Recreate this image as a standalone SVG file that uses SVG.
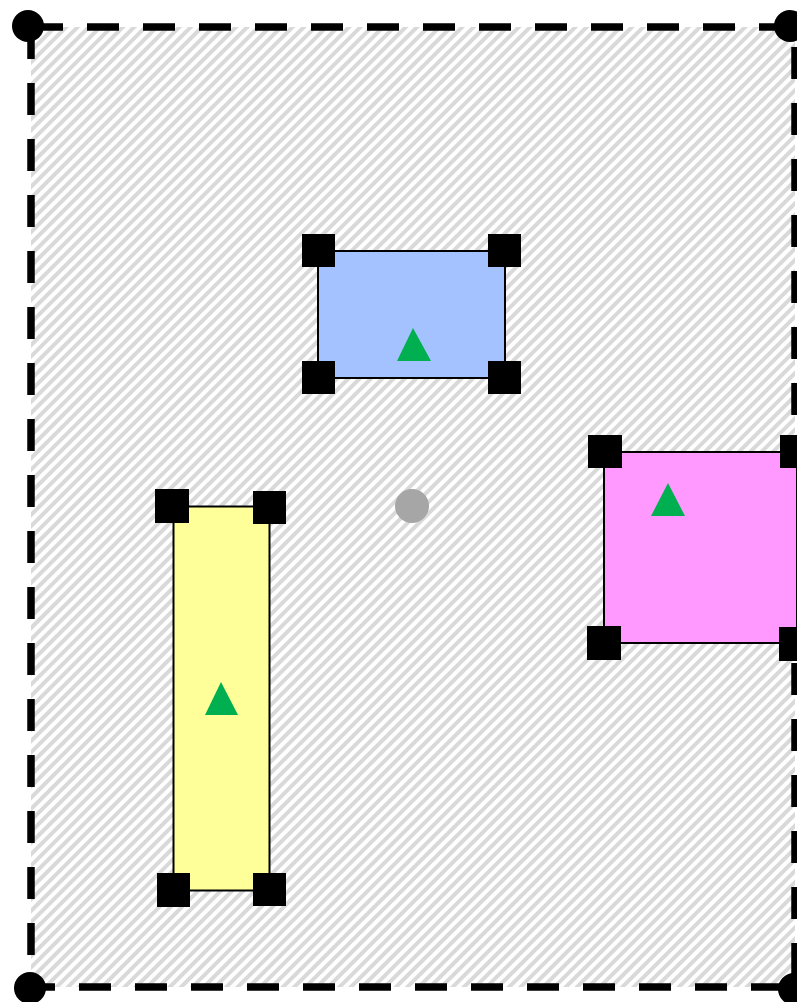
<svg xmlns="http://www.w3.org/2000/svg" width="797" height="1002" viewBox="0 0 797 1002">
<style>
.handle{fill:#000}
.tri{fill:#00b050}
.box{stroke:#000;stroke-width:2}
.corner{fill:#000}
</style>
<defs>
<pattern id="hatch" patternUnits="userSpaceOnUse" width="8" height="8" patternTransform="rotate(45)">
<rect x="0" y="0" width="8" height="8" fill="#fff"/>
<rect x="0" y="0" width="4" height="8" fill="#d9d9d9"/>
</pattern>
</defs>
<rect width="797" height="1002" fill="#fff"/>
<g id="frame">
<rect x="31" y="27" width="764" height="960" fill="url(#hatch)"/>
<rect x="31" y="27" width="764" height="960" fill="none" stroke="#000" stroke-width="7.5" stroke-dasharray="32 24"/>
<circle class="corner" cx="28" cy="26" r="16"/>
<circle class="corner" cx="790" cy="26" r="16"/>
<circle class="corner" cx="30" cy="988" r="16"/>
<circle class="corner" cx="794" cy="989" r="16"/>
</g>
<g id="connectors"></g>
<g id="blue">
<rect class="box" x="318" y="251" width="187" height="127" fill="#a3c2ff"/>
<rect class="handle" x="302" y="234" width="33" height="33"/>
<rect class="handle" x="488" y="234" width="33" height="33"/>
<rect class="handle" x="302" y="361" width="33" height="33"/>
<rect class="handle" x="488" y="361" width="33" height="33"/>
<polygon class="tri" points="413,328 397,361 431,361"/>
</g>
<g id="pink">
<rect class="box" x="604" y="452" width="193" height="191" fill="#ff99ff"/>
<rect class="handle" x="588" y="435" width="34" height="33"/>
<rect class="handle" x="780" y="435" width="34" height="33"/>
<rect class="handle" x="587" y="626" width="34" height="34"/>
<rect class="handle" x="779" y="627" width="34" height="34"/>
<polygon class="tri" points="668,483 651,516 685,516"/>
</g>
<g id="yellow">
<rect class="box" x="173.5" y="506.5" width="96" height="384" fill="#ffff99"/>
<rect class="handle" x="155" y="489" width="34" height="34"/>
<rect class="handle" x="253" y="491" width="33" height="33"/>
<rect class="handle" x="157" y="873" width="33" height="34"/>
<rect class="handle" x="253" y="873" width="33" height="33"/>
<polygon class="tri" points="221,682 205,715 238,715"/>
</g>
<g id="center">
<circle cx="412" cy="506" r="17" fill="#a6a6a6"/>
</g>
</svg>
